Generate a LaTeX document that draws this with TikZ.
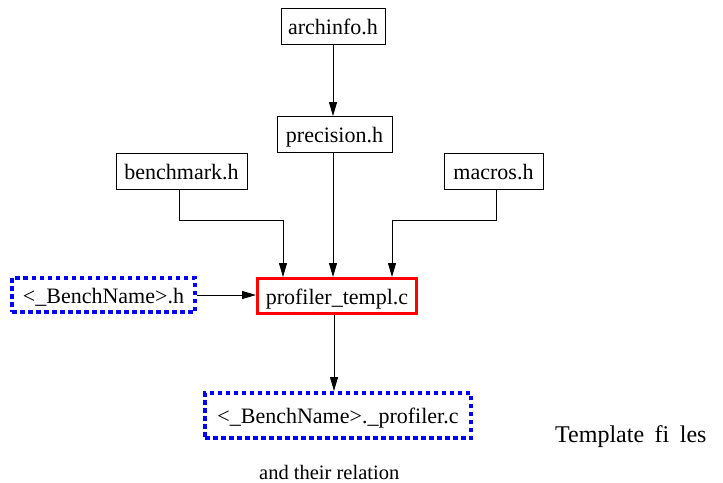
\documentclass[tikz,border=0pt]{standalone}
\usepackage{fontspec}
\setmainfont{Liberation Serif}
\usetikzlibrary{arrows.meta}
\begin{document}
\begin{tikzpicture}[x=1pt,y=-1pt,
  lbl/.style={font=\fontsize{22}{26}\selectfont},
  filebox/.style={lbl, draw, line width=0.9pt, inner sep=0pt,
    text height=22pt, text depth=5.5pt},
  tplbox/.style={filebox, draw=red, line width=3pt},
  genbox/.style={filebox, draw=blue, line width=4pt,
    dash pattern=on 4.5pt off 3.5pt},
  dep/.style={line width=0.9pt, -{Triangle[length=14pt,width=8pt]}},
  caption/.style={anchor=base west, inner sep=0pt}]
\useasboundingbox (0,0) rectangle (723,482);

% header files
\node[filebox, minimum width=104pt, minimum height=36pt] (arch) at (333,26) {archinfo.h};
\node[filebox, minimum width=115pt, minimum height=36pt] (prec) at (334.5,134.5) {precision.h};
\node[filebox, minimum width=131pt, minimum height=36pt] (bench) at (181.5,171) {benchmark.h};
\node[filebox, minimum width=99pt, minimum height=36pt] (macros) at (493.5,171) {macros.h};

% template and generated files
\node[tplbox, minimum width=159pt, minimum height=35pt] (prof) at (337,296) {profiler\_templ.c};
\node[genbox, minimum width=183pt, minimum height=34pt] (bnh) at (103.5,295) {<\_BenchName>.h};
\node[genbox, minimum width=266pt, minimum height=45pt] (bnc) at (338,415.5) {<\_BenchName>.\_profiler.c};

% dependencies
\draw[dep] (arch.south) -- (arch.south |- prec.north);
\draw[dep] ([xshift=-1.5pt]prec.south) -- ([xshift=-1.5pt]prec.south |- prof.north);
\draw[dep] ([xshift=-2.5pt]bench.south) |- (283,220) -- ([xshift=-54pt]prof.north);
\draw[dep] ([xshift=2.5pt]macros.south) |- (392,220) -- ([xshift=55pt]prof.north);
\draw[dep] (bnh.east) -- (bnh.east -| prof.west);
\draw[dep] ([xshift=-3pt]prof.south) -- ([xshift=-3pt]prof.south |- bnc.north);

% caption
\node[caption, font=\fontsize{24}{28}\selectfont] (cap1) at (555,442)
  {\spaceskip=10.5pt Template fi les};
\node[caption, font=\fontsize{20.5}{24}\selectfont] (cap2) at (259,479) {and their relation};
\end{tikzpicture}
\end{document}
